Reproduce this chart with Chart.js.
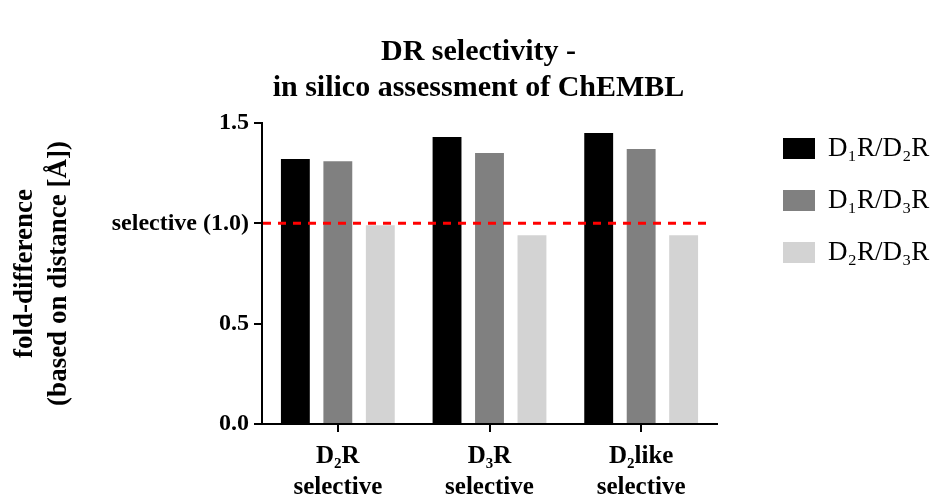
<!DOCTYPE html>
<html>
<head>
<meta charset="utf-8">
<script src="https://cdn.jsdelivr.net/npm/chart.js@4.4.0/dist/chart.umd.min.js"></script>
<style>
  html, body { margin: 0; padding: 0; background: #fff; }
  #wrap { width: 939px; height: 496px; }
</style>
</head>
<body>
<div id="wrap"><canvas id="grafica"></canvas></div>
<script>
// datos
const titulo = ["DR selectivity -", "in silico assessment of ChEMBL"];
const categorias = [["D₂R", "selective"], ["D₃R", "selective"], ["D₂like", "selective"]];
const seriesNombres = ["D₁R/D₂R", "D₁R/D₃R", "D₂R/D₃R"];
const seriesColores = ["#000000", "#808080", "#d3d3d3"];
const valoresD1D2 = [1.32, 1.43, 1.45];
const valoresD1D3 = [1.31, 1.35, 1.37];
const valoresD2D3 = [0.99, 0.94, 0.94];
const ticksY = [0, 0.5, 1.0, 1.5];
const etiquetasY = ["0.0", "0.5", "selective (1.0)", "1.5"];
const umbral = 1.0;

const fuente = "'Liberation Serif', 'Times New Roman', serif";

// titulo dibujado a mano para poder centrarlo como en el original
const tituloPlugin = {
    id: "tituloPlugin",
    afterDraw(chart) {
        const {ctx, chartArea} = chart;
        ctx.save();
        ctx.fillStyle = "#000";
        ctx.font = "bold 30px " + fuente;
        ctx.textAlign = "center";
        ctx.textBaseline = "middle";
        titulo.forEach((linea, i) => {
            ctx.fillText(linea, (chart.width + 18) / 2, chartArea.top - 71 + i * 36);
        });
        ctx.restore();
    }
};

const lineaUmbral = {
    id: "lineaUmbral",
    afterDatasetsDraw(chart) {
        const {ctx, chartArea, scales} = chart;
        const y = scales.y.getPixelForValue(umbral);
        ctx.save();
        ctx.strokeStyle = "#ff0000";
        ctx.lineWidth = 3;
        ctx.setLineDash([8, 7]);
        ctx.beginPath();
        ctx.moveTo(chartArea.left + 1, y);
        ctx.lineTo(chartArea.right - 10, y);
        ctx.stroke();
        ctx.restore();
    }
};

const leyenda = {
    id: "leyenda",
    afterDraw(chart) {
        const {ctx, chartArea} = chart;
        ctx.save();
        chart.data.datasets.forEach((ds, i) => {
            let x = chartArea.right + 66;
            let y = chartArea.top + 15 + i * 52;
            ctx.fillStyle = ds.backgroundColor;
            ctx.fillRect(x, y, 32, 21);
            ctx.fillStyle = "#000";
            ctx.font = "27px " + fuente;
            ctx.textBaseline = "middle";
            ctx.fillText(ds.label, x + 45, y + 11);
        });
        ctx.restore();
    }
};

const datos = [valoresD1D2, valoresD1D3, valoresD2D3];

new Chart(document.getElementById("grafica"), {
    type: "bar",
    data: {
        labels: categorias,
        datasets: seriesNombres.map((nombre, i) => ({
            label: nombre,
            data: datos[i],
            backgroundColor: seriesColores[i],
            borderWidth: 0,
            categoryPercentage: 0.84,
            barPercentage: 0.68
        }))
    },
    options: {
        responsive: true,
        maintainAspectRatio: false,
        animation: false,
        layout: { padding: { left: 18, right: 222, top: 123, bottom: 0 } },
        plugins: {
            legend: { display: false },
            tooltip: { enabled: false },
            title: { display: false }
        },
        scales: {
            x: {
                offset: true,
                grid: { display: true, drawOnChartArea: false, offset: false, color: "#000", lineWidth: 2, tickLength: 8 },
                border: { color: "#000", width: 2 },
                ticks: {
                    color: "#000",
                    padding: 9,
                    maxRotation: 0,
                    font: { family: fuente, size: 25, weight: "bold", lineHeight: 1.24 }
                },
                afterFit(scale) { scale.height = 72; }
            },
            y: {
                min: 0,
                max: 1.5,
                grid: { display: true, drawOnChartArea: false, color: "#000", lineWidth: 2, tickLength: 8 },
                border: { color: "#000", width: 2 },
                afterBuildTicks(scale) { scale.ticks = ticksY.map(v => ({ value: v })); },
                ticks: {
                    color: "#000",
                    padding: 5,
                    font: { family: fuente, size: 24, weight: "bold" },
                    callback: (v) => etiquetasY[ticksY.indexOf(v)]
                },
                title: {
                    display: true,
                    text: ["fold-difference", "(based on distance [Å])"],
                    color: "#000",
                    font: { family: fuente, size: 27, weight: "bold", lineHeight: 1.25 },
                    padding: { top: -10, bottom: 0 }
                },
                afterFit(scale) { scale.width = 244; }
            }
        }
    },
    plugins: [lineaUmbral, leyenda, tituloPlugin]
});
</script>
</body>
</html>
